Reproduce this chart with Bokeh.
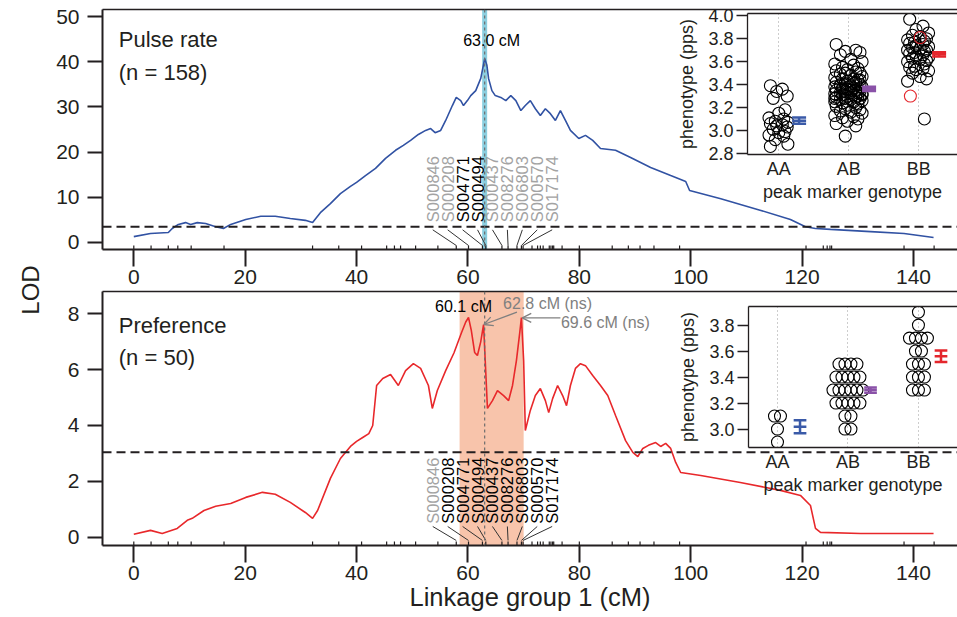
import math
from bokeh.plotting import figure
from bokeh.models import (Range1d, FixedTicker, LinearAxis, Span, BoxAnnotation, Label,
                          Arrow, OpenHead, GridBox, PrintfTickFormatter, Div)
from bokeh.embed import file_html
from bokeh.resources import INLINE
from bokeh.core.properties import value

FONT = "Liberation Sans"

# ---------------- data ----------------
pulse_cm = [0, 3.0, 6.2, 6.9, 8.0, 9.3, 10.2, 11.4, 12.9, 14.7, 16.1, 17.4, 20.1, 22.8, 25.4, 28.1,
            30.8, 32.1, 33.5, 35.3, 37.1, 38.9, 40.0, 41.6, 43.4, 45.2, 47.0, 48.4, 49.7, 51.1, 52.4,
            53.3, 54.1, 55.1, 56.0, 57.2, 57.9, 58.7, 59.2, 59.9, 60.5, 61.4, 62.3, 63.0, 63.4, 63.7,
            64.3, 64.9, 65.9, 66.8, 67.7, 68.6, 69.5, 70.3, 71.2, 72.1, 73.0, 73.9, 74.8, 75.7, 76.6,
            77.5, 78.4, 79.9, 81.1, 82.4, 83.8, 86.5, 89.2, 92.8, 96.4, 99.1, 99.8, 105.4, 112.6,
            117.9, 120.6, 122.4, 125.1, 132.3, 138.3, 143.6]
pulse_lod = [1.3, 2.0, 2.2, 3.1, 4.0, 4.4, 4.0, 4.4, 4.2, 3.5, 3.1, 4.0, 5.1, 5.8, 5.8, 5.3,
             4.9, 4.4, 6.6, 8.6, 10.8, 12.4, 13.3, 14.8, 16.4, 18.6, 20.4, 21.5, 22.6, 23.9, 24.8,
             25.2, 24.3, 24.8, 27.0, 30.3, 32.1, 31.4, 30.3, 31.4, 32.5, 33.6, 36.3, 40.7, 39.2, 36.3,
             33.6, 32.5, 32.1, 31.4, 32.5, 31.4, 29.2, 30.3, 31.4, 29.6, 28.1, 29.6, 28.5, 27.0, 29.2,
             27.0, 24.8, 23.0, 23.7, 22.6, 20.8, 20.4, 18.8, 16.6, 14.8, 13.5, 11.5, 9.7, 7.1,
             5.1, 3.5, 3.1, 2.9, 2.4, 2.0, 1.1]

pref_cm = [0, 3.0, 5.1, 7.8, 9.6, 10.5, 12.6, 14.7, 17.4, 20.1, 23.1, 25.4, 28.1, 30.8, 32.1, 33.0,
           35.3, 37.1, 38.9, 40.0, 41.1, 42.2, 42.9, 43.6, 44.7, 46.1, 47.5, 48.8, 50.2, 51.5, 52.9,
           53.6, 54.5, 56.0, 57.5, 58.8, 59.6, 60.1, 60.6, 61.2, 61.7, 62.3, 62.8, 63.1, 63.5, 64.4,
           65.3, 66.4, 67.3, 68.0, 68.7, 69.3, 69.6, 70.0, 70.3, 71.2, 72.1, 73.0, 73.9, 74.5, 75.2,
           76.1, 77.0, 77.7, 78.4, 79.3, 80.2, 81.1, 82.4, 83.8, 85.1, 86.5, 88.3, 89.6, 90.5, 91.4,
           92.4, 93.7, 94.6, 95.5, 96.4, 97.3, 98.2, 101.8, 108.9, 116.1, 119.7, 121.5, 122.4, 123.3,
           130.5, 137.7, 143.6]
pref_lod = [0.11, 0.25, 0.14, 0.32, 0.61, 0.68, 0.96, 1.11, 1.21, 1.43, 1.61, 1.54, 1.25, 0.89, 0.68, 0.96,
            2.11, 2.82, 3.25, 3.43, 3.57, 3.71, 4.0, 5.43, 5.68, 5.82, 5.43, 5.96, 6.21, 6.04, 5.43,
            4.61, 5.25, 5.96, 6.6, 7.3, 7.7, 7.86, 7.4, 6.61, 6.5, 7.0, 7.61, 6.32, 4.61, 4.89,
            5.25, 5.07, 4.89, 5.43, 6.32, 7.32, 7.86, 6.32, 3.82, 4.54, 5.07, 5.32, 4.89, 4.46, 4.96,
            5.43, 5.07, 4.71, 5.43, 6.04, 6.21, 6.14, 5.79, 5.43, 5.07, 4.36, 3.46, 3.04, 2.89, 3.18,
            3.29, 3.39, 3.25, 3.36, 3.18, 2.68, 2.32, 2.21, 1.96, 1.68, 1.5, 1.14, 0.32, 0.18,
            0.14, 0.14, 0.14]

marker_cm = [0, 3.1, 6.2, 7.9, 10.3, 16.2, 32.1, 36.8, 40.9, 45.4, 46.8, 47.9, 50.6, 54.6, 57.9,
             60.1, 62.6, 63.2, 66.1, 67.2, 68.8, 69.6, 69.9, 71.5, 72.5, 73.0, 73.5, 74.6, 74.9, 75.2,
             75.4, 76.9, 80.0, 85.9, 88.8, 90.9, 93.4, 98.0, 120.7, 123.8, 124.5, 125.0, 125.3, 138.3, 143.7]

named_markers = ["S000846", "S000208", "S004771", "S000494", "S000437", "S008276", "S006803", "S000570", "S017174"]
named_cm = [57.9, 60.1, 62.6, 63.2, 66.1, 67.2, 68.8, 69.6, 69.9]
pulse_sig = [False, False, True, True, False, False, False, False, False]
pref_sig = [False, True, True, True, True, True, True, True, True]

pulse_threshold = 3.5
pref_threshold = 3.04
pulse_peak = 63.0
pref_peaks = [60.1, 62.8, 69.6]
pref_interval = (58.5, 70.0)

genotypes = ["AA", "AB", "BB"]
pulse_AA = [3.39, 3.36, 3.34, 3.30, 3.28, 3.18, 3.15, 3.11, 3.10, 3.08, 3.07, 3.06, 3.05, 3.04,
            3.03, 3.01, 2.99, 2.98, 2.96, 2.95, 2.92, 2.88, 2.86]
pulse_AB = [3.75, 3.70, 3.69, 3.68, 3.66, 3.62, 3.60, 3.58, 3.57, 3.55, 3.54, 3.53, 3.52, 3.51, 3.50,
            3.50, 3.49, 3.48, 3.47, 3.46, 3.45, 3.45, 3.44, 3.43, 3.42, 3.42, 3.41, 3.40, 3.40, 3.39,
            3.38, 3.38, 3.37, 3.37, 3.36, 3.36, 3.35, 3.35, 3.34, 3.34, 3.33, 3.33, 3.32, 3.32, 3.31,
            3.31, 3.30, 3.30, 3.29, 3.29, 3.28, 3.28, 3.27, 3.27, 3.26, 3.25, 3.25, 3.24, 3.23, 3.22,
            3.21, 3.20, 3.19, 3.18, 3.17, 3.16, 3.15, 3.13, 3.12, 3.11, 3.10, 3.08, 3.06, 3.04, 2.95,
            3.44, 3.39, 3.35, 3.31, 3.28, 3.41, 3.36, 3.33]
pulse_BB = [3.97, 3.91, 3.88, 3.85, 3.83, 3.82, 3.80, 3.79, 3.78, 3.77, 3.76, 3.75, 3.74, 3.73, 3.72,
            3.71, 3.70, 3.70, 3.69, 3.68, 3.67, 3.66, 3.65, 3.64, 3.63, 3.62, 3.61, 3.60, 3.58, 3.56,
            3.55, 3.54, 3.53, 3.52, 3.50, 3.47, 3.45, 3.43, 3.10]
pulse_BB_red = [3.81, 3.30]
pulse_mean = [3.085, 3.362, 3.664]
pulse_se = [0.027, 0.019, 0.019]

pref_AA = [3.1, 3.1, 3.0, 2.9]
pref_AB = [3.5, 3.5, 3.5, 3.5, 3.4, 3.4, 3.4, 3.4, 3.4, 3.3, 3.3, 3.3, 3.3, 3.3, 3.3,
           3.2, 3.2, 3.2, 3.2, 3.2, 3.1, 3.1, 3.0, 3.0]
pref_BB = [3.9, 3.8, 3.7, 3.7, 3.7, 3.7, 3.6, 3.6, 3.5, 3.5, 3.5, 3.4, 3.4, 3.4, 3.3, 3.3, 3.3]
pref_mean = [3.018, 3.30, 3.56]
pref_se = [0.05, 0.02, 0.045]

group_colors = ["#3a5aa8", "#8a52a8", "#e4262c"]

# ---------------- helpers ----------------
X_RANGE = (-5.62, 147.9)
INK = "#231f20"
# every plot shares the same borders (the grid aligns them)
B = dict(min_border_left=102, min_border_right=0, min_border_top=9, min_border_bottom=72)


def style_main(p, yticks):
    p.outline_line_color = None
    p.grid.visible = False
    p.background_fill_alpha = 0
    p.border_fill_alpha = 0
    xa = p.xaxis[0]
    xa.ticker = FixedTicker(ticks=[0, 20, 40, 60, 80, 100, 120, 140])
    ya = p.yaxis[0]
    ya.ticker = FixedTicker(ticks=yticks)
    for ax in (xa, ya):
        ax.axis_line_color = INK
        ax.axis_line_width = 2
        ax.major_tick_line_color = INK
        ax.major_tick_line_width = 2
        ax.major_tick_in = 0
        ax.minor_tick_line_color = None
        ax.major_label_text_font = FONT
        ax.major_label_text_font_size = "21px"
        ax.major_label_text_color = INK
    xa.major_tick_out = 17
    ya.major_tick_out = 15
    xa.major_label_standoff = 3
    ya.major_label_standoff = 8
    top_line = LinearAxis(ticker=FixedTicker(ticks=[]), axis_line_color=INK, axis_line_width=1.5)
    p.add_layout(top_line, "above")
    return xa, ya


def style_inset(p, yticks):
    p.outline_line_color = None
    p.background_fill_alpha = 0
    p.border_fill_alpha = 0
    p.ygrid.visible = False
    p.xgrid.grid_line_color = "#9a9a9a"
    p.xgrid.grid_line_dash = "1 3"
    p.xgrid.grid_line_width = 1
    xa = p.xaxis[0]
    ya = p.yaxis[0]
    xa.ticker = FixedTicker(ticks=[1, 2, 3])
    xa.major_label_overrides = {1: genotypes[0], 2: genotypes[1], 3: genotypes[2]}
    ya.ticker = FixedTicker(ticks=yticks)
    ya.formatter = PrintfTickFormatter(format="%.1f")
    for ax in (xa, ya):
        ax.axis_line_color = INK
        ax.axis_line_width = 1.3
        ax.major_tick_line_color = INK
        ax.major_tick_line_width = 1.3
        ax.major_tick_in = 0
        ax.minor_tick_line_color = None
        ax.major_label_text_font = FONT
        ax.major_label_text_font_size = "18px"
        ax.major_label_text_color = INK
        ax.axis_label_text_font = FONT
        ax.axis_label_text_font_size = "18px"
        ax.axis_label_text_font_style = "normal"
        ax.axis_label_text_color = INK
    xa.major_tick_out = 0
    xa.major_label_standoff = 4
    xa.axis_label = "peak marker genotype"
    xa.axis_label_standoff = 0
    ya.major_tick_out = 11
    ya.major_label_standoff = 3
    ya.axis_label = "phenotype (pps)"
    ya.axis_label_standoff = 8
    p.add_layout(LinearAxis(ticker=FixedTicker(ticks=[]), axis_line_color=INK, axis_line_width=1.3), "above")


def jitter_points(p, gi, vals, offsets, color="black"):
    xs = [gi + offsets[k % len(offsets)] for k in range(len(vals))]
    p.scatter(xs, vals, size=12, marker="circle", fill_color=None, line_color=color, line_width=1.1)


def row_points(p, gi, vals, step=0.085):
    counts = {}
    for v in vals:
        counts[v] = counts.get(v, 0) + 1
    seen = {}
    xs = []
    for v in vals:
        k = seen.get(v, 0)
        seen[v] = k + 1
        xs.append(gi + (k - (counts[v] - 1) / 2.0) * step)
    p.scatter(xs, vals, size=12, marker="circle", fill_color=None, line_color="black", line_width=1.1)


def mean_bars(p, means, ses, shift, half=0.1):
    for i, (m, s) in enumerate(zip(means, ses)):
        x = i + 1 + shift
        c = group_colors[i]
        p.segment(x0=[x], y0=[m - s], x1=[x], y1=[m + s], line_color=c, line_width=2.5)
        p.segment(x0=[x - half] * 3, y0=[m - s, m, m + s], x1=[x + half] * 3, y1=[m - s, m, m + s],
                  line_color=c, line_width=2.5)


def marker_labels(p, sig, y_text, y_line0, y_line1, rug_len, ymin):
    center = 64.4
    spacing = 2.68
    lx = [center + (i - (len(named_markers) - 1) / 2.0) * spacing for i in range(len(named_markers))]
    cols = ["black" if s else "#a3a3a3" for s in sig]
    p.text(x=lx, y=[y_text] * len(lx), text=named_markers, angle=math.pi / 2, text_align="left",
           text_baseline="middle", text_color=cols, text_font=value(FONT), text_font_size="16.5px")
    p.segment(x0=lx, y0=[y_line0] * len(lx), x1=named_cm, y1=[y_line1] * len(lx), line_color="#333333",
              line_width=1)
    p.segment(x0=marker_cm, y0=[ymin] * len(marker_cm), x1=marker_cm, y1=[ymin + rug_len] * len(marker_cm),
              line_color=INK, line_width=1.2)


# ---------------- top panel ----------------
top = figure(width=957, height=321, x_range=Range1d(*X_RANGE), y_range=Range1d(-1.55, 51.55),
             output_backend="svg", toolbar_location=None, **B)
style_main(top, [0, 10, 20, 30, 40, 50])
top.add_layout(Span(location=pulse_peak, dimension="height", line_color="#8ccfe0", line_width=5,
                    level="underlay"))
top.line(pulse_cm, pulse_lod, line_color="#3152a3", line_width=1.6)
top.add_layout(Span(location=pulse_threshold, dimension="width", line_color=INK, line_width=2,
                    line_dash="9 5"))
top.add_layout(Span(location=pulse_peak, dimension="height", line_color="#6d6d6d", line_width=1.2,
                    line_dash="3 3"))
marker_labels(top, pulse_sig, 4.5, 2.8, -0.66, 0.885, -1.55)
top.add_layout(Label(x=-2.7, y=44.85, text="Pulse rate", text_font=FONT, text_font_size="22px",
                     text_color=INK, text_baseline="alphabetic"))
top.add_layout(Label(x=-2.7, y=37.6, text="(n = 158)", text_font=FONT, text_font_size="22px",
                     text_color=INK, text_baseline="alphabetic"))
top.add_layout(Label(x=pulse_peak, y=44.7, x_offset=7, text="%.1f cM" % pulse_peak, text_font=FONT,
                     text_font_size="16px", text_color="black", text_align="center",
                     text_baseline="middle"))

# ---------------- bottom panel ----------------
bot = figure(width=957, height=335, x_range=Range1d(*X_RANGE), y_range=Range1d(-0.29, 8.79),
             output_backend="svg", toolbar_location=None, margin=(282, 0, 0, 0), **B)
bxa, bya = style_main(bot, [0, 2, 4, 6, 8])
bxa.axis_label = "Linkage group 1 (cM)"
bxa.axis_label_text_font = FONT
bxa.axis_label_text_font_size = "25.5px"
bxa.axis_label_text_font_style = "normal"
bxa.axis_label_text_color = INK
bxa.axis_label_standoff = 0
bot.add_layout(BoxAnnotation(left=pref_interval[0], right=pref_interval[1], fill_color="#f8c4ab",
                             fill_alpha=1, line_color=None, level="underlay"))
bot.line(pref_cm, pref_lod, line_color="#e8282b", line_width=1.6)
bot.add_layout(Span(location=pref_threshold, dimension="width", line_color=INK, line_width=2,
                    line_dash="9 5"))
bot.add_layout(Span(location=pulse_peak, dimension="height", line_color="#6d6d6d", line_width=1.2,
                    line_dash="3 3"))
marker_labels(bot, pref_sig, 0.49, 0.39, -0.11, 0.143, -0.29)
bot.add_layout(Label(x=-2.7, y=7.57, text="Preference", text_font=FONT, text_font_size="22px",
                     text_color=INK, text_baseline="alphabetic"))
bot.add_layout(Label(x=-2.7, y=6.43, text="(n = 50)", text_font=FONT, text_font_size="22px",
                     text_color=INK, text_baseline="alphabetic"))
bot.add_layout(Label(x=pref_peaks[0], y=8.25, x_offset=-5, text="%.1f cM" % pref_peaks[0], text_font=FONT,
                     text_font_size="16px", text_color="black", text_align="center",
                     text_baseline="middle"))
bot.add_layout(Label(x=pref_peaks[1], y=8.36, x_offset=64, text="%.1f cM (ns)" % pref_peaks[1],
                     text_font=FONT, text_font_size="16px", text_color="#808080", text_align="center",
                     text_baseline="middle"))
bot.add_layout(Label(x=pref_peaks[2], y=7.69, x_offset=84, text="%.1f cM (ns)" % pref_peaks[2],
                     text_font=FONT, text_font_size="16px", text_color="#808080", text_align="center",
                     text_baseline="middle"))
bot.add_layout(Arrow(end=OpenHead(size=9, line_color="#808080", line_width=1.3),
                     x_start=pref_peaks[1] + 6.0, y_start=8.05, x_end=pref_peaks[1] + 0.05, y_end=7.61,
                     line_color="#808080", line_width=1.3))
bot.add_layout(Arrow(end=OpenHead(size=9, line_color="#808080", line_width=1.3),
                     x_start=pref_peaks[2] + 7.0, y_start=7.85, x_end=pref_peaks[2] + 0.15, y_end=7.85,
                     line_color="#808080", line_width=1.3))

# ---------------- insets ----------------
ins1 = figure(width=312, height=222, x_range=Range1d(0.553, 3.553), y_range=Range1d(2.79, 4.02),
              output_backend="svg", toolbar_location=None, margin=(4, 0, 0, 645), **B)
style_inset(ins1, [2.8, 3.0, 3.2, 3.4, 3.6, 3.8, 4.0])
jitter_points(ins1, 1, pulse_AA, [-0.12, 0.05, -0.03, 0.12, -0.08, 0.09, 0.0, -0.14, 0.07, -0.05, 0.13])
jitter_points(ins1, 2, pulse_AB, [-0.18, 0.10, -0.05, 0.16, -0.12, 0.03, 0.19, -0.20, 0.07, -0.09, 0.13, -0.02])
jitter_points(ins1, 3, pulse_BB, [-0.13, 0.06, -0.04, 0.14, -0.09, 0.02, 0.11, -0.16, 0.08, -0.06])
jitter_points(ins1, 3, pulse_BB_red, [0.02, -0.12], color="#e4262c")
mean_bars(ins1, pulse_mean, pulse_se, 0.29, half=0.1)

ins2 = figure(width=311, height=222, x_range=Range1d(0.589, 3.554), y_range=Range1d(2.858, 3.943),
              output_backend="svg", toolbar_location=None, margin=(297, 0, 0, 646), **B)
style_inset(ins2, [3.0, 3.2, 3.4, 3.6, 3.8])
row_points(ins2, 1, pref_AA)
row_points(ins2, 2, pref_AB)
row_points(ins2, 3, pref_BB)
mean_bars(ins2, pref_mean, pref_se, 0.32, half=0.09)

# ---------------- shared y-axis title ----------------
lod = Div(text="LOD", width=60, height=30, margin=(275, 0, 0, 1),
          styles={"transform": "rotate(-90deg)", "font-family": FONT, "font-size": "24px",
                  "color": INK, "text-align": "center", "line-height": "30px"})

layout = GridBox(children=[(top, 0, 0), (bot, 0, 0), (ins1, 0, 0), (ins2, 0, 0), (lod, 0, 0)],
                 spacing=0)

open("out.html", "w").write(file_html(layout, INLINE))
